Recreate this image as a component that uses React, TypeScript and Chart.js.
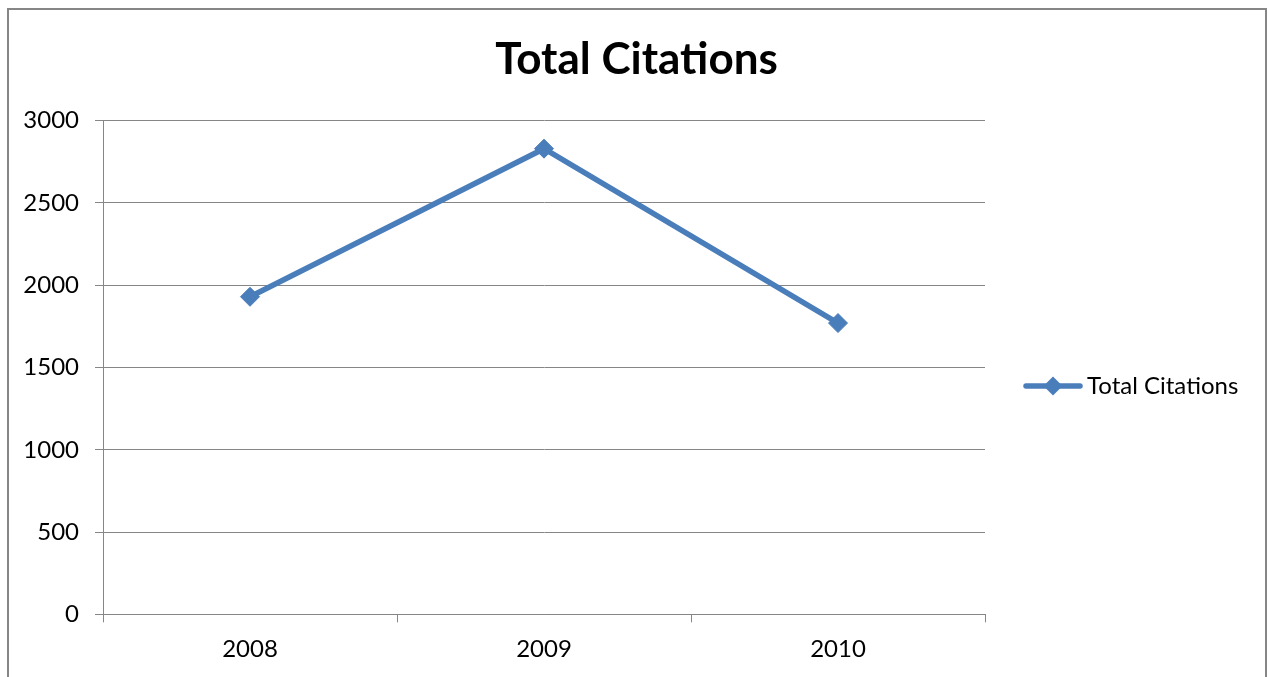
import React, { useEffect, useRef } from "react";
import { Chart, registerables } from "chart.js";

Chart.register(...registerables);

const categories = ["2008", "2009", "2010"];
const totalCitations = [1930, 2830, 1770];
const seriesLabel = "Total Citations";
const chartTitle = "Total Citations";
const yMin = 0;
const yMax = 3000;
const yStep = 500;

const W = 1268;
const H = 677;
const FONT = "Lato, 'Open Sans', sans-serif";
const LINE_COLOR = "#4a7ebb";
const GRID_COLOR = "#868686";

const frameAndLegend = {
  id: "frameAndLegend",
  beforeDraw(chart: any) {
    const ctx = chart.ctx;
    ctx.save();
    ctx.fillStyle = "#ffffff";
    ctx.fillRect(0, 0, chart.width, chart.height);
    ctx.restore();
  },
  afterDraw(chart: any) {
    const ctx = chart.ctx;
    ctx.save();
    // outer chart border
    ctx.strokeStyle = GRID_COLOR;
    ctx.lineWidth = 2;
    ctx.strokeRect(8, 9, chart.width - 10, chart.height + 20);
    // legend
    const ds = chart.data.datasets[0];
    const area = chart.chartArea;
    const lx = area.right + 41;
    const ly = 386;
    ctx.strokeStyle = ds.borderColor;
    ctx.lineWidth = 5.5;
    ctx.lineCap = "round";
    ctx.beginPath();
    ctx.moveTo(lx, ly);
    ctx.lineTo(lx + 54, ly);
    ctx.stroke();
    const cx = lx + 27;
    const r = 9.5;
    ctx.fillStyle = ds.pointBackgroundColor;
    ctx.beginPath();
    ctx.moveTo(cx - r, ly);
    ctx.lineTo(cx, ly - r);
    ctx.lineTo(cx + r, ly);
    ctx.lineTo(cx, ly + r);
    ctx.closePath();
    ctx.fill();
    ctx.fillStyle = "#000000";
    ctx.font = `24px ${FONT}`;
    ctx.textAlign = "left";
    ctx.textBaseline = "middle";
    ctx.fillText(ds.label, lx + 61, ly);
    ctx.restore();
  },
};

export default function App() {
  const ref = useRef<HTMLCanvasElement | null>(null);

  useEffect(() => {
    if (!ref.current) return;
    const chart = new Chart(ref.current, {
      type: "line",
      data: {
        labels: categories,
        datasets: [
          {
            label: seriesLabel,
            data: totalCitations,
            borderColor: LINE_COLOR,
            backgroundColor: LINE_COLOR,
            pointBackgroundColor: LINE_COLOR,
            pointBorderColor: LINE_COLOR,
            borderWidth: 5.5,
            pointStyle: "rectRot",
            pointRadius: 9.5,
            pointBorderWidth: 1,
            tension: 0,
            fill: false,
            yAxisID: "y",
          },
        ],
      },
      options: {
        responsive: false,
        animation: false,
        devicePixelRatio: 1,
        layout: { padding: { left: 7, top: 8, right: 2, bottom: 0 } },
        plugins: {
          legend: { display: false },
          tooltip: { enabled: false },
          title: {
            display: true,
            text: chartTitle,
            color: "#000000",
            font: { family: FONT, size: 44, weight: "bold", lineHeight: 1.2 },
            padding: { top: 25.2, bottom: 34.7 },
          },
        },
        scales: {
          x: {
            type: "category",
            offset: true,
            grid: {
              offset: true,
              drawOnChartArea: false,
              drawTicks: true,
              tickLength: 8,
              color: GRID_COLOR,
              lineWidth: 1,
            },
            border: { display: true, color: GRID_COLOR, width: 1 },
            ticks: {
              color: "#000000",
              font: { family: FONT, size: 24, lineHeight: 1.2 },
              padding: 13,
              maxRotation: 0,
              autoSkip: false,
            },
            afterFit(scale: any) {
              scale.height = H - 614.3;
            },
          },
          y: {
            position: "left",
            min: yMin,
            max: yMax,
            grid: {
              color: GRID_COLOR,
              lineWidth: 1,
              drawTicks: true,
              tickLength: 8,
            },
            border: { display: true, color: GRID_COLOR, width: 1 },
            ticks: {
              stepSize: yStep,
              color: "#000000",
              font: { family: FONT, size: 24, lineHeight: 1.2 },
              padding: 16,
              callback: (v: any) => String(v),
            },
            afterFit(scale: any) {
              scale.width = 103 - 7;
            },
          },
          legendSpace: {
            position: "right",
            display: true,
            grid: { display: false, drawOnChartArea: false, drawTicks: false },
            border: { display: false },
            ticks: { display: false },
            afterFit(scale: any) {
              scale.width = 1266 - 985;
            },
          },
        },
      },
      plugins: [frameAndLegend],
    });
    return () => chart.destroy();
  }, []);

  return (
    <div style={{ position: "absolute", left: 0, top: 0, width: W, height: H, background: "#fff" }}>
      <canvas ref={ref} width={W} height={H} style={{ display: "block", width: W, height: H }} />
    </div>
  );
}
